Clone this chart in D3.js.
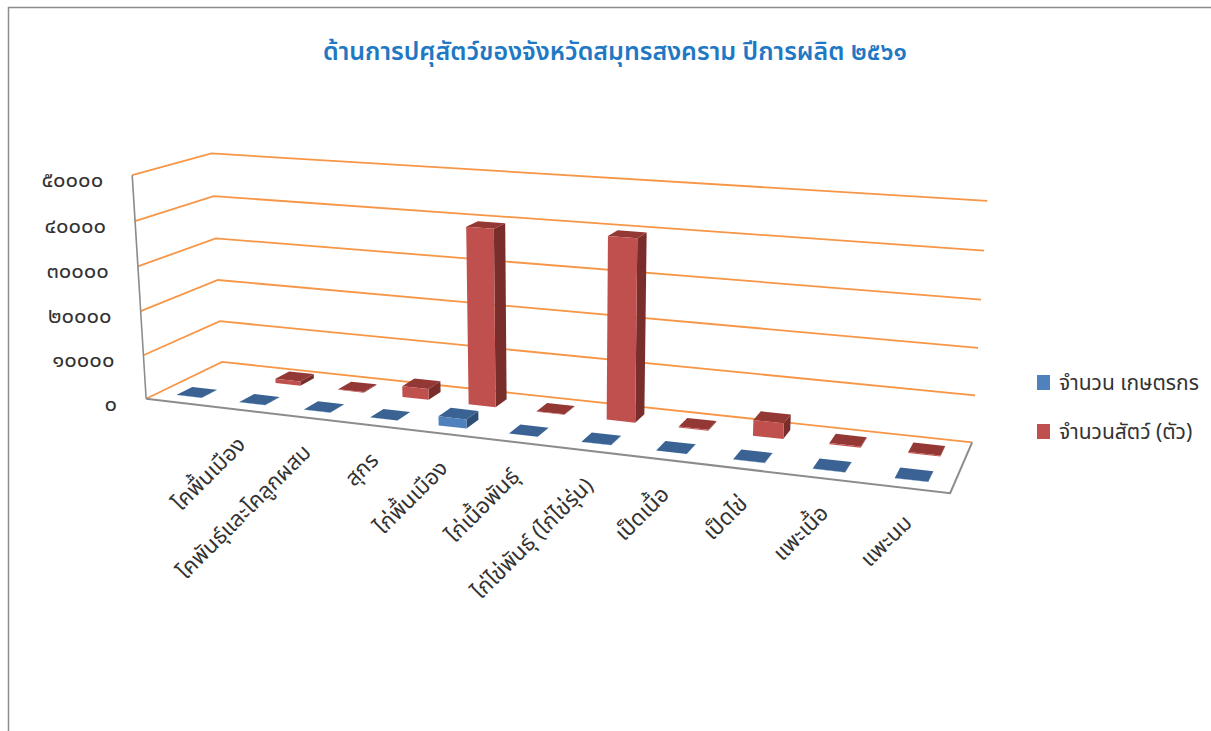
<!DOCTYPE html>
<html><head><meta charset="utf-8">
<script src="https://cdn.jsdelivr.net/npm/d3@7"></script>
<style>
body{margin:0;background:#fff;}
svg text{font-family:"Noto Sans Thai","Noto Sans","DejaVu Sans",sans-serif;}
</style></head><body>
<svg id="chart" width="1211" height="731"></svg>
<script>
// ---------- data ----------
const chartTitle = "ด้านการปศุสัตว์ของจังหวัดสมุทรสงคราม ปีการผลิต ๒๕๖๑";
const categories = ["", "โคพื้นเมือง", "โคพันธุ์และโคลูกผสม", "สุกร", "ไก่พื้นเมือง", "ไก่เนื้อพันธุ์",
  "ไก่ไข่พันธุ์ (ไก่ไข่รุ่น)", "เป็ดเนื้อ", "เป็ดไข่", "แพะเนื้อ", "แพะนม"];
const seriesNames = ["จำนวน เกษตรกร", "จำนวนสัตว์ (ตัว)"];
const farmers = [60, 80, 60, 40, 2000, 30, 50, 40, 60, 50, 60];
const animals = [null, 1000, 150, 2500, 39600, 150, 39800, 200, 3400, 250, 200];
const yTicks = [0, 10000, 20000, 30000, 40000, 50000];
const yMax = 50000;
const seriesColors = ["#4F81BD", "#C0504D"];
const seriesTop = ["#3A6393", "#943836"];
const seriesSide = ["#2E4F77", "#7A2E2C"];

// ---------- 3D camera ----------
const cam = { yaw: 20.2, pitch: 14.4, f: 1727, cx: 560, cy: 321.6, pos: [121, 63.6, -177.7] };
const W = 100, D = 18.3, H = 28.5;
const th = cam.yaw * Math.PI / 180, ph = cam.pitch * Math.PI / 180;
function proj(X, Y, Z) {
  const dx = X - cam.pos[0], dy = Y - cam.pos[1], dz = Z - cam.pos[2];
  const x1 = dx * Math.cos(th) + dz * Math.sin(th);
  const z1 = -dx * Math.sin(th) + dz * Math.cos(th);
  const yc = dy * Math.cos(ph) + z1 * Math.sin(ph);
  const zc = z1 * Math.cos(ph) - dy * Math.sin(ph);
  return [cam.cx + cam.f * x1 / zc, cam.cy - cam.f * yc / zc];
}

const x = d3.scaleBand().domain(d3.range(categories.length)).range([0, W]).paddingInner(0.6).paddingOuter(0.3);
const z = d3.scaleBand().domain(d3.range(seriesNames.length)).range([0, D]).paddingInner(0.6).paddingOuter(0.3);
const y = d3.scaleLinear().domain([0, yMax]).range([0, H]);
const thai = s => String(s).replace(/[0-9]/g, d => "๐๑๒๓๔๕๖๗๘๙"[+d]);

const svg = d3.select("#chart");
const poly = d3.line().curve(d3.curveLinearClosed);
const line = d3.line();

// chart border
svg.append("path").attr("d", "M8.5,731 L8.5,7.5 L1211,7.5").attr("fill", "none")
  .attr("stroke", "#8C8C8C").attr("stroke-width", 1.5);

// title
svg.append("text").attr("x", 615).attr("y", 60).attr("text-anchor", "middle")
  .attr("font-size", 25).attr("font-weight", 600).attr("fill", "#1F78C4").text(chartTitle);

// floor
svg.append("path").attr("d", poly([proj(0,0,0), proj(W,0,0), proj(W,0,D), proj(0,0,D)]))
  .attr("fill", "#fff");

// gridlines (left wall + back wall)
const g = svg.append("g");
yTicks.forEach(t => {
  g.append("path").attr("d", line([proj(0, y(t), 0), proj(0, y(t), D), proj(W, y(t), D)]))
    .attr("fill", "none").attr("stroke", "#F79646").attr("stroke-width", 1.8);
});
// floor front & right edges
svg.append("path").attr("d", line([proj(0,0,0), proj(W,0,0), proj(W,0,D)]))
  .attr("fill", "none").attr("stroke", "#8C8C8C").attr("stroke-width", 2);
// vertical axis
svg.append("path").attr("d", line([proj(0,0,0), proj(0,H,0)]))
  .attr("fill", "none").attr("stroke", "#8C8C8C").attr("stroke-width", 1.6);

// tick labels
yTicks.forEach(t => {
  const p = proj(0, y(t), 0);
  svg.append("text").attr("x", p[0] - 29).attr("y", p[1] + 12).attr("text-anchor", "end")
    .attr("font-size", 22).attr("fill", "#333").text(thai(t));
});

// bars: back series first, left to right
const bars = svg.append("g");
const seriesData = [farmers, animals];
for (let s = seriesNames.length - 1; s >= 0; s--) {
  seriesData[s].forEach((v, i) => {
    if (v == null) return;
    const X0 = x(i), X1 = X0 + x.bandwidth();
    const Z0 = z(s), Z1 = Z0 + z.bandwidth();
    const Y1 = y(v);
    bars.append("path").attr("d", poly([proj(X1,0,Z0), proj(X1,0,Z1), proj(X1,Y1,Z1), proj(X1,Y1,Z0)]))
      .attr("fill", seriesSide[s]);
    bars.append("path").attr("d", poly([proj(X0,Y1,Z0), proj(X1,Y1,Z0), proj(X1,Y1,Z1), proj(X0,Y1,Z1)]))
      .attr("fill", seriesTop[s]);
    bars.append("path").attr("d", poly([proj(X0,0,Z0), proj(X1,0,Z0), proj(X1,Y1,Z0), proj(X0,Y1,Z0)]))
      .attr("fill", seriesColors[s]);
  });
}

// category labels
categories.forEach((c, i) => {
  if (!c) return;
  const p = proj(x(i) + x.bandwidth() / 2, 0, 0);
  svg.append("text").attr("transform", `translate(${p[0] + 6},${p[1] + 36}) rotate(-45)`)
    .attr("text-anchor", "end").attr("font-size", 22).attr("fill", "#333").text(c);
});

// legend
const lg = svg.append("g").attr("transform", "translate(1037,375)");
seriesNames.forEach((n, i) => {
  lg.append("rect").attr("x", 0).attr("y", i * 49).attr("width", 13).attr("height", 15)
    .attr("fill", seriesColors[i]);
  lg.append("text").attr("x", 22).attr("y", i * 49 + 15).attr("font-size", 21)
    .attr("fill", "#333").text(n);
});
</script>
</body></html>
